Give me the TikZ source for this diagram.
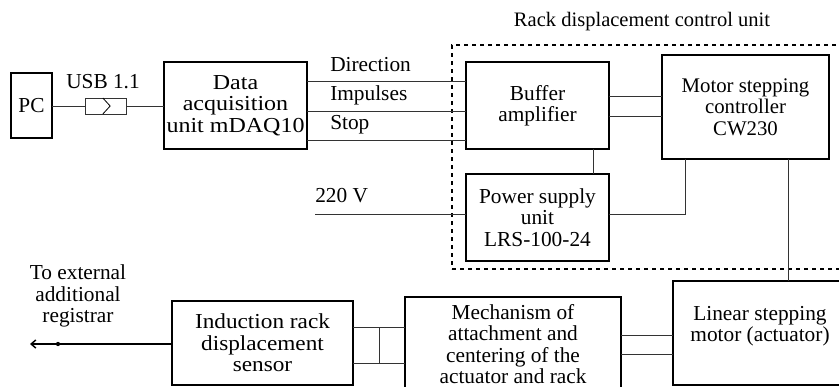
\documentclass[tikz,border=0pt]{standalone}
\usepackage{fontspec}
\setmainfont{Liberation Serif}
\newfontfamily\daqfont[FakeStretch=1.125]{Liberation Serif}
\newfontfamily\sensorfont[FakeStretch=1.09]{Liberation Serif}
\usetikzlibrary{positioning,arrows.meta}
\tikzset{
    blockbox/.style 2 args={draw, line width=1.1pt, outer sep=0pt, inner sep=0pt, align=center,
        minimum width=#1*0.75pt, minimum height=#2*0.75pt, font=\fontsize{16}{16}\selectfont},
    lbl/.style={inner sep=0pt, align=center, font=\fontsize{16}{16}\selectfont},
    wire/.style={line width=0.6pt, black!80},
}
\begin{document}
\begin{tikzpicture}[>=Stealth, x=0.75pt, y=-0.75pt]
    \useasboundingbox (0,0) rectangle (839,386);

    % Rack displacement control unit
    \node[lbl, font=\fontsize{15.4}{16}\selectfont] (title_unit) at (642,22) {Rack displacement control unit};
    \node[draw, dashed, line width=1.1pt, outer sep=0pt, minimum width=400*0.75pt, minimum height=224*0.75pt] (unit) at (652,157) {};

    % upper row
    \node[blockbox={41}{65}] (pc) at (31.5,105.5) {PC};
    \node[blockbox={143}{87}, font=\daqfont\fontsize{16}{16}\selectfont] (daq) at (235.5,105.5) {Data\\acquisition\\unit mDAQ10};
    \node[blockbox={143}{87}] (buffer) at (537.5,105.5) {Buffer\\amplifier};
    \node[blockbox={167}{104}, font=\fontsize{15.6}{16}\selectfont] (motor) at (745.5,107) {Motor stepping\\controller\\CW230};
    \node[blockbox={143}{87}] (power) at (537.5,217.5) {Power supply\\unit\\LRS-100-24};

    % lower row
    \node[blockbox={181}{84}, font=\sensorfont\fontsize{16}{16}\selectfont] (sensor) at (262.5,343) {Induction rack\\displacement\\sensor};
    \node[blockbox={216}{94}] (mech) at (513,344) {Mechanism of\\attachment and\\centering of the\\actuator and rack};
    \node[blockbox={174}{104}] (linear) at (760,333) {};
    \node[lbl] (linear_text) at (760,326) {Linear stepping\\motor (actuator)};

    % USB link
    \node[draw, line width=0.6pt, black!80, outer sep=0pt, minimum width=41*0.75pt, minimum height=16*0.75pt] (usb) at (105.5,106) {};
    \draw[line width=0.6pt] ([xshift=-2pt,yshift=6pt]usb.center) -- ([xshift=3.5pt]usb.center) -- ([xshift=-2pt,yshift=-6pt]usb.center);
    \node[lbl] (usb_label) at (103,82) {USB 1.1};
    \draw[wire] (pc.east |- usb.west) -- (usb.west);
    \draw[wire] (usb.east) -- (daq.west |- usb.east);

    % signal lines, daq to buffer
    \foreach \name/\ypos/\ylab in {Direction/81/65, Impulses/111/95, Stop/140/125} {
        \draw[wire] (daq.east |- 0,\ypos) -- (buffer.west |- 0,\ypos);
        \node[lbl, anchor=west] (label_\name) at (330,\ylab) {\name};
    }

    % buffer to controller
    \draw[wire] (buffer.east |- 0,96) -- (motor.west |- 0,96);
    \draw[wire] (buffer.east |- 0,116) -- (motor.west |- 0,116);

    % power lines
    \coordinate (mains) at (315,214);
    \node[lbl, anchor=west] (label_mains) at (315,196) {220 V};
    \draw[wire] (mains) -- (power.west |- mains);
    \draw[wire] (593,0 |- buffer.south) -- (593,0 |- power.north);
    \draw[wire] (power.east |- mains) -| (685,0 |- motor.south);
    \draw[wire] (788,0 |- motor.south) -- (788,0 |- linear.north);

    % lower links
    \draw[wire] (sensor.east |- 0,327) -- (mech.west |- 0,327);
    \draw[wire] (sensor.east |- 0,363) -- (mech.west |- 0,363);
    \draw[wire] (379,327) -- (379,363);
    \draw[wire] (mech.east |- 0,335) -- (linear.west |- 0,335);
    \draw[wire] (mech.east |- 0,354) -- (linear.west |- 0,354);

    % output
    \coordinate (out) at (30,344);
    \node[lbl] (label_out) at (78,296) {To external\\additional\\registrar};
    \draw[{Straight Barb[length=3.5pt,width=6pt]}-, line width=1.1pt] (out) -- (sensor.west |- out);
    \fill (58,344) circle (1.6pt);
\end{tikzpicture}
\end{document}
